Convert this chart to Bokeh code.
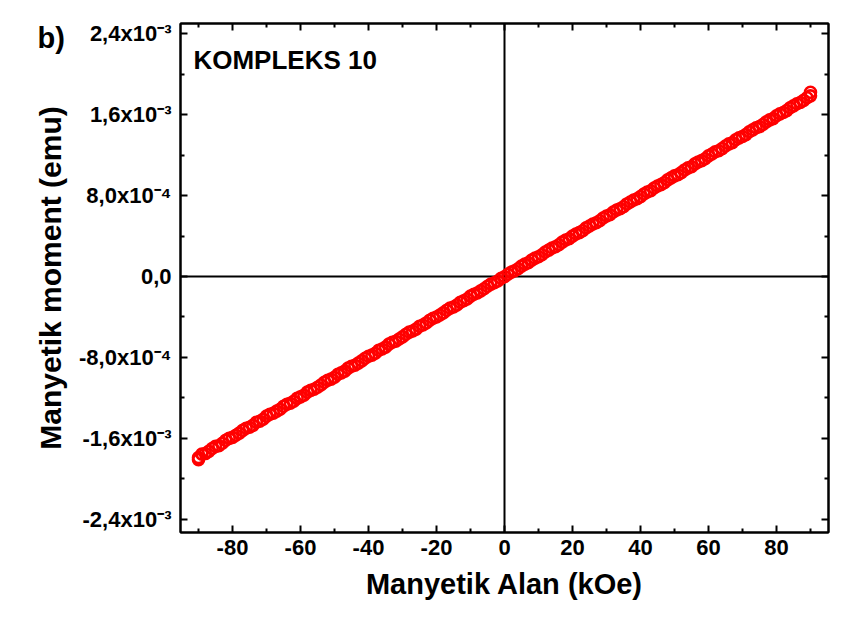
from bokeh.plotting import figure
from bokeh.models import LinearAxis, FixedTicker, CustomJSTickFormatter, Span, Label, Range1d
from bokeh.embed import file_html
from bokeh.resources import INLINE

# Magnetic field (kOe) and magnetic moment (x1e-3 emu)
field_sweep1 = [-90, -88, -86, -84, -82, -80, -78, -76, -74, -72, -70, -68, -66, -64, -62, -60,
                -58, -56, -54, -52, -50, -48, -46, -44, -42, -40, -38, -36, -34, -32, -30, -28,
                -26, -24, -22, -20, -18, -16, -14, -12, -10, -8, -6, -4, -2, 0, 2, 4, 6, 8, 10,
                12, 14, 16, 18, 20, 22, 24, 26, 28, 30, 32, 34, 36, 38, 40, 42, 44, 46, 48, 50,
                52, 54, 56, 58, 60, 62, 64, 66, 68, 70, 72, 74, 76, 78, 80, 82, 84, 86, 88, 90]
moment_sweep1 = [-1.790, -1.750, -1.700, -1.672, -1.618, -1.590, -1.548, -1.500, -1.471, -1.430,
                 -1.380, -1.352, -1.312, -1.262, -1.233, -1.190, -1.143, -1.115, -1.072, -1.025,
                 -0.996, -0.953, -0.906, -0.877, -0.834, -0.788, -0.758, -0.716, -0.668, -0.640,
                 -0.597, -0.550, -0.520, -0.479, -0.432, -0.401, -0.360, -0.313, -0.282, -0.240,
                 -0.194, -0.163, -0.121, -0.075, -0.044, -0.002, 0.043, 0.076, 0.122, 0.162,
                 0.195, 0.242, 0.281, 0.314, 0.361, 0.399, 0.433, 0.480, 0.518, 0.551, 0.598,
                 0.637, 0.670, 0.717, 0.756, 0.789, 0.835, 0.875, 0.908, 0.955, 0.994, 1.026,
                 1.073, 1.113, 1.145, 1.192, 1.232, 1.264, 1.311, 1.351, 1.383, 1.430, 1.470,
                 1.502, 1.548, 1.589, 1.621, 1.667, 1.707, 1.740, 1.785]

field_sweep2 = [-90, -89, -87, -85, -83, -81, -79, -77, -75, -73, -71, -69, -67, -65, -63, -61, -59,
                -57, -55, -53, -51, -49, -47, -45, -43, -41, -39, -37, -35, -33, -31, -29, -27,
                -25, -23, -21, -19, -17, -15, -13, -11, -9, -7, -5, -3, -1, 1, 3, 5, 7, 9, 11,
                13, 15, 17, 19, 21, 23, 25, 27, 29, 31, 33, 35, 37, 39, 41, 43, 45, 47, 49, 51,
                53, 55, 57, 59, 61, 63, 65, 67, 69, 71, 73, 75, 77, 79, 81, 83, 85, 87, 89, 90]
moment_sweep2 = [-1.810, -1.755, -1.728, -1.679, -1.648, -1.600, -1.569, -1.521, -1.490, -1.441,
                 -1.411, -1.362, -1.331, -1.283, -1.252, -1.204, -1.173, -1.125, -1.094, -1.045,
                 -1.014, -0.966, -0.935, -0.887, -0.856, -0.808, -0.777, -0.729, -0.698, -0.650,
                 -0.618, -0.571, -0.539, -0.492, -0.459, -0.413, -0.380, -0.334, -0.301, -0.254,
                 -0.222, -0.175, -0.142, -0.096, -0.062, -0.017, 0.022, 0.056, 0.102, 0.136,
                 0.181, 0.215, 0.261, 0.294, 0.340, 0.373, 0.420, 0.452, 0.499, 0.531, 0.578,
                 0.610, 0.657, 0.689, 0.736, 0.768, 0.815, 0.847, 0.894, 0.927, 0.974, 1.006,
                 1.053, 1.085, 1.132, 1.164, 1.211, 1.243, 1.290, 1.322, 1.370, 1.402, 1.449,
                 1.481, 1.528, 1.560, 1.607, 1.639, 1.686, 1.719, 1.766, 1.820]

x_major_ticks = [-80, -60, -40, -20, 0, 20, 40, 60, 80]
x_minor_ticks = [-90, -70, -50, -30, -10, 10, 30, 50, 70, 90]
y_major_ticks = [-2.4e-3, -1.6e-3, -0.8e-3, 0.0, 0.8e-3, 1.6e-3, 2.4e-3]
y_minor_ticks = [-2.0e-3, -1.2e-3, -0.4e-3, 0.4e-3, 1.2e-3, 2.0e-3]

panel_tag = "b)"
sample_name = "KOMPLEKS 10"
x_title = "Manyetik Alan (kOe)"
y_title = "Manyetik moment (emu)"

FONT = "Liberation Sans"
RED = "#ff0000"

p = figure(width=846, height=621, output_backend="svg", toolbar_location=None,
           x_range=Range1d(-95.3, 95.3), y_range=Range1d(-2.53e-3, 2.50e-3),
           min_border_left=180, min_border_right=18, min_border_top=23, min_border_bottom=89,
           x_axis_label=x_title, y_axis_label=y_title)
p.background_fill_color = "white"
p.border_fill_color = "white"
p.grid.visible = False
p.outline_line_color = "black"
p.outline_line_width = 2

ytick_fmt = CustomJSTickFormatter(code="""
if (Math.abs(tick) < 1e-12) return "0,0";
const sup = {"-":"\u207b","0":"\u2070","1":"\u00b9","2":"\u00b2","3":"\u00b3","4":"\u2074",
             "5":"\u2075","6":"\u2076","7":"\u2077","8":"\u2078","9":"\u2079"};
const e = Math.floor(Math.log10(Math.abs(tick)) + 1e-9);
const m = tick / Math.pow(10, e);
const es = String(e).split("").map(c => sup[c]).join("");
return m.toFixed(1).replace(".", ",") + "x10" + es;
""")
xtick_fmt = CustomJSTickFormatter(code="return tick.toFixed(0);")
blank_fmt = CustomJSTickFormatter(code="return '';")

def style_axis(ax, label_size, title_size):
    ax.axis_line_width = 2
    ax.axis_line_color = "black"
    ax.major_tick_in = 7
    ax.major_tick_out = 0
    ax.minor_tick_in = 4
    ax.minor_tick_out = 0
    ax.major_tick_line_width = 2
    ax.minor_tick_line_width = 2
    ax.major_label_text_font = FONT
    ax.major_label_text_font_style = "bold"
    ax.major_label_text_font_size = label_size
    ax.major_label_text_color = "black"
    ax.axis_label_text_font = FONT
    ax.axis_label_text_font_style = "bold"
    ax.axis_label_text_font_size = title_size
    ax.axis_label_text_color = "black"

xax = p.xaxis[0]
yax = p.yaxis[0]
xax.ticker = FixedTicker(ticks=x_major_ticks, minor_ticks=x_minor_ticks)
yax.ticker = FixedTicker(ticks=y_major_ticks, minor_ticks=y_minor_ticks)
xax.formatter = xtick_fmt
yax.formatter = ytick_fmt
style_axis(xax, "22px", "29px")
style_axis(yax, "22px", "30px")
xax.major_label_standoff = 7
xax.axis_label_standoff = 10
yax.major_label_standoff = 9
yax.axis_label_standoff = 9

top_ax = LinearAxis(ticker=FixedTicker(ticks=x_major_ticks, minor_ticks=x_minor_ticks),
                    formatter=blank_fmt)
right_ax = LinearAxis(ticker=FixedTicker(ticks=y_major_ticks, minor_ticks=y_minor_ticks),
                      formatter=blank_fmt)
for ax in (top_ax, right_ax):
    style_axis(ax, "0px", "0px")
    ax.major_label_standoff = 0
p.add_layout(top_ax, "above")
p.add_layout(right_ax, "right")

p.add_layout(Span(location=0, dimension="height", line_color="black", line_width=2, level="underlay"))
p.add_layout(Span(location=0, dimension="width", line_color="black", line_width=2, level="underlay"))

p.scatter(field_sweep1, [m * 1e-3 for m in moment_sweep1], marker="circle", size=11,
          fill_color=None, line_color=RED, line_width=2.6)
p.scatter(field_sweep2, [m * 1e-3 for m in moment_sweep2], marker="circle", size=11,
          fill_color=None, line_color=RED, line_width=2.6)

p.add_layout(Label(x=-91.5, y=2.29e-3, text=sample_name, text_font=FONT, text_font_style="bold",
                   text_font_size="26px", text_baseline="top", text_color="black"))
p.add_layout(Label(x=37, y=21, x_units="canvas", y_units="canvas", text=panel_tag, text_font=FONT,
                   text_font_style="bold", text_font_size="29px", text_baseline="top",
                   text_color="black"), "left")

open("out.html", "w").write(file_html(p, INLINE))
